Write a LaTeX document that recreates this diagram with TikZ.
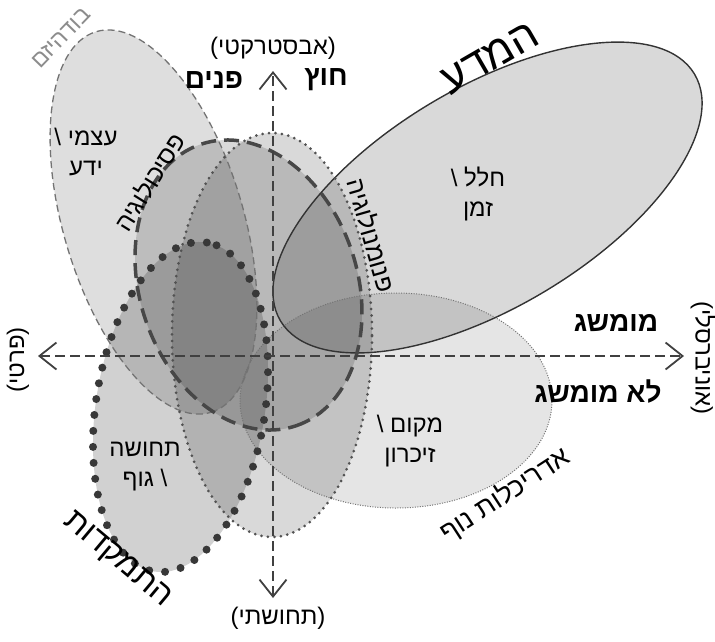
\documentclass[tikz,border=0pt]{standalone}
\usepackage{fontspec}
\newfontfamily\hebfont[Script=Hebrew]{Liberation Sans}
\usetikzlibrary{arrows.meta}
\TeXXeTstate=1
\newcommand{\rl}[1]{\beginR#1\endR}
\tikzset{
  heb/.style={font=\hebfont\fontsize{24}{30}\selectfont, inner sep=0pt, align=center},
  hebbold/.style={font=\hebfont\bfseries\fontsize{28}{32}\selectfont, inner sep=0pt},
  grouplabel/.style={font=\hebfont\fontsize{25}{30}\selectfont, inner sep=0pt},
  axis/.style={draw=black!75, line width=1.8pt, dash pattern=on 10pt off 5pt},
  shade/.style={fill=black, fill opacity=#1},
  budline/.style={draw=black!55, line width=1.3pt, dash pattern=on 7pt off 4pt},
  psyline/.style={draw=black!72, line width=3.5pt, dash pattern=on 15pt off 8pt},
  phenline/.style={draw=black!68, line width=3pt, line cap=round, dash pattern=on 0pt off 6.5pt},
  focline/.style={draw=black!78, line width=8pt, line cap=round, dash pattern=on 0pt off 16pt},
  sciline/.style={draw=black!80, line width=1.4pt},
  landline/.style={draw=black!55, line width=1pt, dash pattern=on 1pt off 1.5pt}
}
\begin{document}
\begin{tikzpicture}[x=1pt, y=1pt, >={Straight Barb[length=17pt,width=27pt]}]
\useasboundingbox (0,0) rectangle (715,-641);
% centres of the fields
\coordinate (bud) at (153.5,-222);
\coordinate (psy) at (248.5,-285);
\coordinate (phen) at (272,-335);
\coordinate (foc) at (180.5,-407);
\coordinate (sci) at (487.5,-197.5);
\coordinate (land) at (396,-400.5);
% fills
\fill[shade=.13] (bud) circle [x radius=198.8, y radius=89.8, rotate=-73.2];
\fill[shade=.15] (psy) circle [x radius=148.6, y radius=108.7, rotate=-71.3];
\fill[shade=.15] (phen) circle [x radius=100, y radius=202];
\fill[shade=.18] (foc) circle [x radius=166.6, y radius=84.5, rotate=80.9];
\fill[shade=.15] (sci) circle [x radius=241, y radius=110, rotate=30.8];
\fill[shade=.10] (land) circle [x radius=156, y radius=107.5];
% outlines
\draw[landline] (land) circle [x radius=156, y radius=107.5];
\draw[budline] (bud) circle [x radius=198.8, y radius=89.8, rotate=-73.2];
\draw[sciline] (sci) circle [x radius=241, y radius=110, rotate=30.8];
\draw[phenline] (phen) circle [x radius=100, y radius=202];
\draw[psyline] (psy) circle [x radius=148.6, y radius=108.7, rotate=-71.3];
\draw[focline] (foc) circle [x radius=166.6, y radius=84.5, rotate=80.9];
% axes
\coordinate (west) at (38,-356);
\coordinate (east) at (684,-356);
\coordinate (north) at (273,-71);
\coordinate (south) at (273,-598);
\draw[axis,<->] (west) -- (east);
\draw[axis,<->] (south) -- (north);
% axis labels
\node[heb] (abst) at (273,-48) {\rl{(אבסטרקטי)}};
\node[heb] (sens) at (278,-618) {\rl{(תחושתי)}};
\node[heb, rotate=90] (priv) at (18,-360) {\rl{(פרטי)}};
\node[heb, rotate=-90] (univ) at (703,-358) {\rl{(אוניברסלי)}};
\node[hebbold] (inner) at (214,-80) {\rl{פנים}};
\node[hebbold] (outer) at (326,-80) {\rl{חוץ}};
\node[hebbold] (concep) at (616,-323) {\rl{מומשג}};
\node[hebbold] (nonconcep) at (598,-392) {\rl{לא מומשג}};
% field labels
\node[grouplabel, font=\hebfont\fontsize{23}{28}\selectfont, text=black!45, rotate=46] (budname) at (61,-38) {\rl{בודהיזם}};
\node[grouplabel, rotate=58] (psyname) at (149,-182) {\rl{פסיכולוגיה}};
\node[grouplabel, rotate=-74] (phenname) at (372,-235) {\rl{פנומנולוגיה}};
\node[grouplabel, font=\hebfont\fontsize{43}{48}\selectfont, rotate=30] (sciname) at (490,-58) {\rl{המדע}};
\node[grouplabel, font=\hebfont\fontsize{32}{36}\selectfont, rotate=-40] (focname) at (117,-560) {\rl{התמקדות}};
\node[grouplabel, font=\hebfont\fontsize{27}{30}\selectfont, rotate=33] (landname) at (505,-495) {\rl{אדריכלות נוף}};
% contents
\node[heb] (self) at (86,-152) {\rl{עצמי \textbackslash}\\\rl{ידע}};
\node[heb] (spacetime) at (478,-194) {\rl{חלל \textbackslash}\\\rl{זמן}};
\node[heb] (body) at (145,-467) {\rl{תחושה}\\\rl{\textbackslash{} גוף}};
\node[heb] (memory) at (410,-441) {\rl{מקום \textbackslash}\\\rl{זיכרון}};
\end{tikzpicture}
\end{document}
